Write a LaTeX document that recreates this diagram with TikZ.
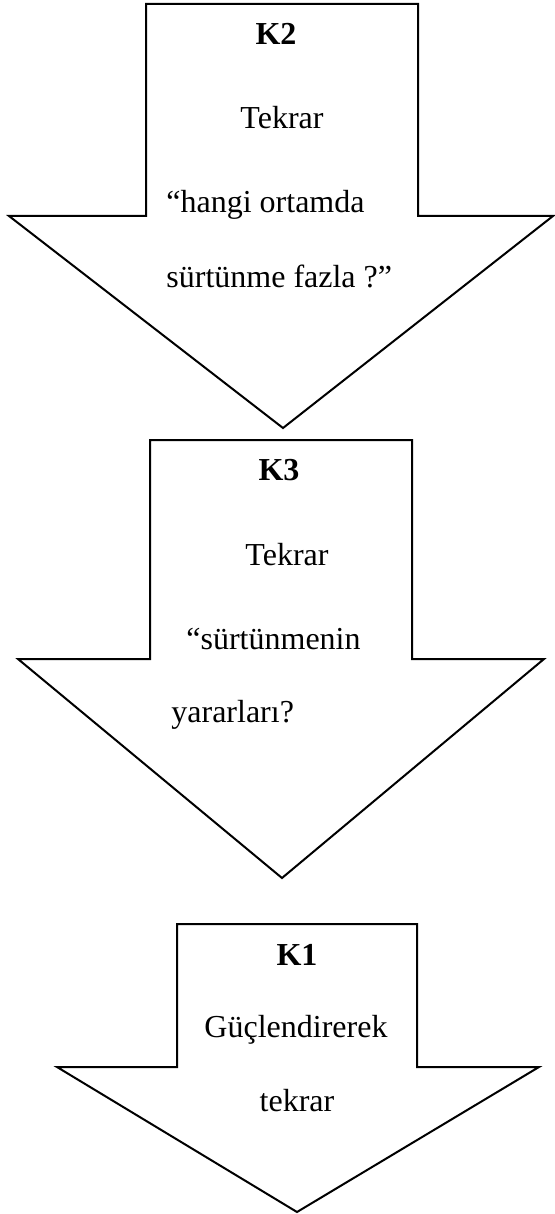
\documentclass[tikz,border=0pt]{standalone}
\usepackage{fontspec}
\setmainfont{Liberation Serif}
\tikzset{
  okgovde/.style={draw=black, line width=1pt, fill=white, line join=miter},
  baslik/.style ={inner sep=0pt, font=\fontsize{16}{19}\selectfont\bfseries},
  satir/.style  ={inner sep=0pt, font=\fontsize{16}{19}\selectfont}
}

\begin{document}
\begin{tikzpicture}[x=0.5pt, y=-0.5pt]

\useasboundingbox (0,0) rectangle (554,1214);

%OK K2
\draw[okgovde] (146,4) -- (418,4) -- (418,216) -- (553,216) -- (283,428)
  -- (9,216) -- (146,216) -- cycle;

\node[baslik, anchor=base] (k2) at (276,45) {K2};
\node[satir, anchor=base] (k2a) at (282,129) {Tekrar};
\node[satir, anchor=base west] (k2b) at (166,213) {“hangi ortamda};
\node[satir, anchor=base west] (k2c) at (166,287) {sürtünme fazla ?”};

%OK K3
\draw[okgovde] (150,440) -- (412,440) -- (412,659) -- (544,659) -- (282,878)
  -- (18,659) -- (150,659) -- cycle;

\node[baslik, anchor=base] (k3) at (279,480) {K3};
\node[satir, anchor=base] (k3a) at (287,565) {Tekrar};
\node[satir, anchor=base west] (k3b) at (186,649) {“sürtünmenin};
\node[satir, anchor=base west] (k3c) at (171,722) {yararları?};

%OK K1
\draw[okgovde] (177,924) -- (417,924) -- (417,1067) -- (539,1067) -- (297,1212)
  -- (57,1067) -- (177,1067) -- cycle;

\node[baslik, anchor=base] (k1) at (297,965) {K1};
\node[satir, anchor=base] (k1a) at (296,1037) {Güçlendirerek};
\node[satir, anchor=base] (k1b) at (297,1111) {tekrar};

\end{tikzpicture}
\end{document}
